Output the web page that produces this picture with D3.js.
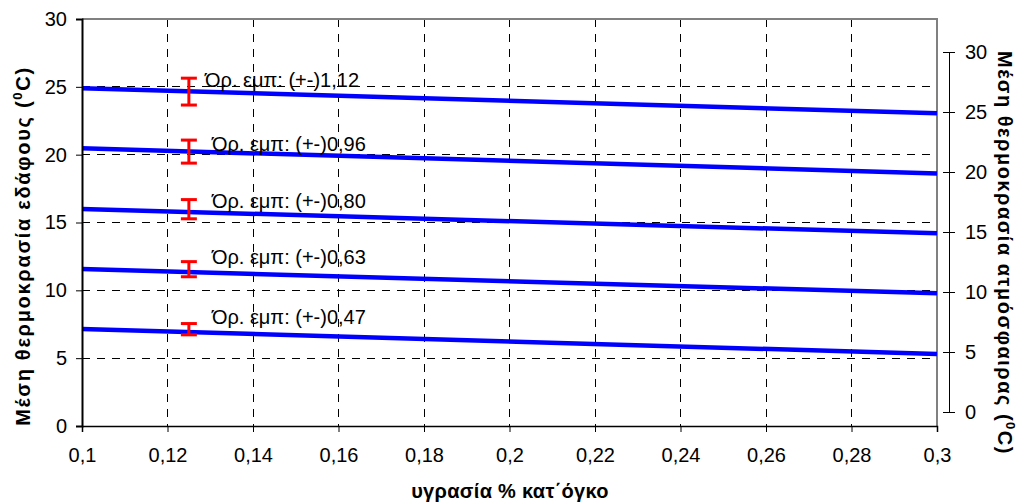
<!DOCTYPE html>
<html>
<head>
<meta charset="utf-8">
<script src="https://cdn.jsdelivr.net/npm/d3@7/dist/d3.min.js"></script>
<style>
  html, body { margin: 0; padding: 0; background: #fff; }
  svg { display: block; font-family: "Liberation Sans", Arial, sans-serif; }
</style>
</head>
<body>
<svg id="chart" width="1018" height="504"></svg>
<script>
// ---- data ----
const xValues = [0.1, 0.3];
const line1 = [24.9, 23.05];
const line2 = [20.47, 18.62];
const line3 = [16.0, 14.2];
const line4 = [11.57, 9.78];
const line5 = [7.15, 5.31];
const seriesLines = [line1, line2, line3, line4, line5];

const errX = 0.125;
const errCenters = [26.7, 21.7, 16.9, 11.9, 6.9];      // secondary (right) axis units
const errValues = [1.12, 0.96, 0.80, 0.63, 0.47];
const errLabels = ["Όρ. εμπ: (+-)1,12", "Όρ. εμπ: (+-)0,96", "Όρ. εμπ: (+-)0,80", "Όρ. εμπ: (+-)0,63", "Όρ. εμπ: (+-)0,47"];
const labelX = [0.1288, 0.1304, 0.1304, 0.1304, 0.1304];
const labelY = [24.99, 20.27, 16.05, 11.96, 7.53];

const xTicks = [0.1, 0.12, 0.14, 0.16, 0.18, 0.2, 0.22, 0.24, 0.26, 0.28, 0.3];
const xTickLabels = ["0,1", "0,12", "0,14", "0,16", "0,18", "0,2", "0,22", "0,24", "0,26", "0,28", "0,3"];
const yTicks = [0, 5, 10, 15, 20, 25, 30];
const y2Ticks = [0, 5, 10, 15, 20, 25, 30];

const xTitle = "υγρασία % κατ΄όγκο";
const yTitle = "Μέση θερμοκρασία εδάφους (";
const y2Title = "Μέση θερμοκρασία ατμόσφαιρας (";

// ---- layout ----
const svg = d3.select("#chart");
const L = 82, R = 937, T = 19, B = 426;
const x = d3.scaleLinear().domain([0.1, 0.3]).range([L, R]);
const y = d3.scaleLinear().domain([0, 30]).range([B, T]);
const y2 = d3.scaleLinear().domain([0, 30]).range([412, 52]);
const FONT = "Liberation Sans, Arial, sans-serif";

// gridlines
const grid = svg.append("g");
grid.selectAll("line.hg").data(yTicks.filter(d => d > 0 && d < 30)).enter().append("line")
  .attr("x1", L).attr("x2", R).attr("y1", d => y(d)).attr("y2", d => y(d))
  .attr("stroke", "#000").attr("stroke-width", 1).attr("stroke-dasharray", "8,7")
  .attr("shape-rendering", "crispEdges");
grid.selectAll("line.vg").data(xTicks.filter(d => d > 0.1 && d < 0.3)).enter().append("line")
  .attr("x1", d => x(d)).attr("x2", d => x(d)).attr("y1", T).attr("y2", B)
  .attr("stroke", "#000").attr("stroke-width", 1).attr("stroke-dasharray", "8,7")
  .attr("shape-rendering", "crispEdges");

// plot border (top/right gray)
svg.append("path").attr("d", `M${L},${T}H${R}V${B}`).attr("fill", "none")
  .attr("stroke", "#808080").attr("stroke-width", 2);

// lines
const lineGen = d3.line().x((d, i) => x(xValues[i])).y(d => y(d));
svg.append("g").selectAll("path").data(seriesLines).enter().append("path")
  .attr("d", d => lineGen(d)).attr("fill", "none").attr("stroke", "#0000ff").attr("stroke-width", 4.5);

// error bars
const eg = svg.append("g").attr("stroke", "#ff0000").attr("stroke-width", 3);
errCenters.forEach((c, i) => {
  const cx = x(errX), yt = y2(c + errValues[i]), yb = y2(c - errValues[i]);
  eg.append("line").attr("x1", cx).attr("x2", cx).attr("y1", yt).attr("y2", yb);
  eg.append("line").attr("x1", cx - 8).attr("x2", cx + 8).attr("y1", yt).attr("y2", yt);
  eg.append("line").attr("x1", cx - 8).attr("x2", cx + 8).attr("y1", yb).attr("y2", yb);
});

// labels
svg.append("g").selectAll("text").data(errLabels).enter().append("text")
  .attr("x", (d, i) => x(labelX[i])).attr("y", (d, i) => y(labelY[i]))
  .attr("font-size", 20).attr("fill", "#000").text(d => d);

// x axis
const xAxis = d3.axisBottom(x).tickValues(xTicks).tickFormat((d, i) => xTickLabels[i]).tickSize(6).tickPadding(16);
const gx = svg.append("g").attr("transform", `translate(0,${B})`).call(xAxis);
gx.select(".domain").attr("stroke", "#000").attr("stroke-width", 1.5);
gx.selectAll("text").attr("font-size", 20).attr("font-family", FONT).attr("fill", "#000");

// left y axis
const yAxis = d3.axisLeft(y).tickValues(yTicks).tickFormat(d => d).tickSize(6).tickPadding(9);
const gy = svg.append("g").attr("transform", `translate(${L},0)`).call(yAxis);
gy.select(".domain").attr("stroke", "#000").attr("stroke-width", 2);
gy.selectAll("text").attr("font-size", 20).attr("font-family", FONT).attr("fill", "#000");

// right y axis
const y2Axis = d3.axisRight(y2).tickValues(y2Ticks).tickFormat(d => d).tickSizeInner(6).tickSizeOuter(0).tickPadding(10);
const gy2 = svg.append("g").attr("transform", `translate(949,0)`).call(y2Axis);
gy2.selectAll(".tick line").attr("x1", -6);
gy2.selectAll("text").attr("font-size", 20).attr("font-family", FONT).attr("fill", "#000");

// titles
svg.append("text").attr("x", 510).attr("y", 498).attr("text-anchor", "middle")
  .attr("font-size", 20).attr("font-weight", "bold").attr("letter-spacing", 0.3).text(xTitle);

const t1 = svg.append("text").attr("transform", "translate(30,246) rotate(-90)").attr("text-anchor", "middle")
  .attr("font-size", 20).attr("font-weight", "bold").attr("letter-spacing", 1.7);
t1.append("tspan").text(yTitle);
t1.append("tspan").attr("font-size", 13).attr("dy", -8).text("0");
t1.append("tspan").attr("dy", 8).text("C)");

const t2 = svg.append("text").attr("transform", "translate(998,253) rotate(90)").attr("text-anchor", "middle")
  .attr("font-size", 20).attr("font-weight", "bold").attr("letter-spacing", 1.5);
t2.append("tspan").text(y2Title);
t2.append("tspan").attr("font-size", 13).attr("dy", -8).text("0");
t2.append("tspan").attr("dy", 8).text("C)");
</script>
</body>
</html>
